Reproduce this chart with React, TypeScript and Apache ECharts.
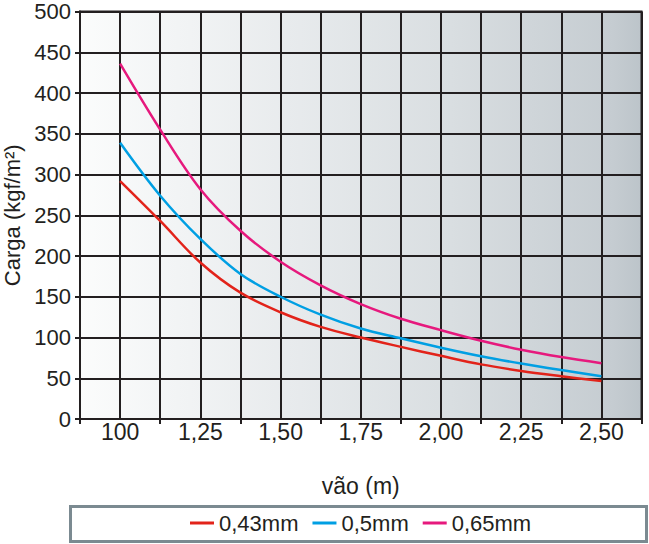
import React, { useEffect, useRef } from "react";
import * as echarts from "echarts";

const xCategories = ["100", "1,25", "1,50", "1,75", "2,00", "2,25", "2,50"];
const spans = [1.0, 1.125, 1.25, 1.375, 1.5, 1.625, 1.75, 1.875, 2.0, 2.125, 2.25, 2.375, 2.5];
const load043 = [292, 243, 192, 155, 131, 113, 100, 88.5, 77.5, 67, 59, 52.5, 46.5];
const load050 = [339, 274, 221, 178, 150, 128, 111, 99, 87.5, 77, 68, 60, 52.5];
const load065 = [436, 355, 282, 231, 193, 164, 141, 123, 109, 96, 85, 76, 68.5];
const seriesNames = ["0,43mm", "0,5mm", "0,65mm"];
const seriesColors = ["#e2231a", "#009fe3", "#e6197d"];
const yAxisName = "Carga (kgf/m²)";
const xAxisName = "vão (m)";

const FONT = "'Liberation Sans', Arial, Helvetica, sans-serif";
const INK = "#231f20";

export default function App() {
  const ref = useRef<HTMLDivElement>(null);
  useEffect(() => {
    if (!ref.current) return;
    const chart = echarts.init(ref.current, undefined, { renderer: "svg" });
    const allLoads = [load043, load050, load065];
    chart.setOption({
      animation: false,
      textStyle: { fontFamily: FONT },
      grid: {
        left: 80,
        right: 7.5,
        top: 11.5,
        bottom: 125,
        containLabel: false,
        outerBoundsMode: "none",
        show: true,
        borderColor: INK,
        borderWidth: 2,
        backgroundColor: new echarts.graphic.LinearGradient(0, 0, 1, 0, [
          { offset: 0, color: "#fbfcfc" },
          { offset: 0.37, color: "#e8ebed" },
          { offset: 0.66, color: "#d9dee1" },
          { offset: 0.95, color: "#c5ccd1" },
          { offset: 1, color: "#bcc4ca" },
        ]),
      },
      xAxis: [
        {
          type: "value",
          min: 0.875,
          max: 2.625,
          interval: 0.125,
          position: "bottom",
          axisLine: { show: false },
          axisTick: { show: false },
          axisLabel: { show: false },
          splitLine: { show: true, lineStyle: { color: INK, width: 2 } },
        },
        {
          type: "category",
          data: xCategories,
          position: "bottom",
          boundaryGap: true,
          axisLine: { show: true, lineStyle: { color: INK, width: 2 } },
          axisTick: { show: true, length: 5, lineStyle: { color: INK, width: 2 } },
          axisLabel: { fontSize: 23, lineHeight: 22, color: INK, margin: 2, fontFamily: FONT },
          splitLine: { show: false },
          name: xAxisName,
          nameLocation: "middle",
          nameGap: 56,
          nameTextStyle: { fontSize: 23, lineHeight: 22, color: INK, fontFamily: FONT },
        },
      ],
      yAxis: {
        type: "value",
        min: 0,
        max: 500,
        interval: 50,
        axisLine: { show: true, lineStyle: { color: INK, width: 2 } },
        axisTick: { show: true, length: 5, lineStyle: { color: INK, width: 2 } },
        axisLabel: { fontSize: 22, lineHeight: 20, color: INK, margin: 9, fontFamily: FONT },
        splitLine: { show: true, lineStyle: { color: INK, width: 2 } },
        name: yAxisName,
        nameLocation: "middle",
        nameGap: 52,
        nameTextStyle: { fontSize: 22, lineHeight: 22, color: INK, fontFamily: FONT },
      },
      legend: {
        left: 190,
        top: 512,
        padding: 0,
        itemWidth: 24,
        itemHeight: 3,
        itemGap: 14,
        icon: "rect",
        textStyle: { fontSize: 22, color: INK, fontFamily: FONT },
        data: seriesNames,
      },
      graphic: [
        {
          type: "rect",
          z: 0,
          shape: { x: 70.5, y: 506.5, width: 576, height: 35 },
          style: { fill: "#ffffff", stroke: "#7b8a91", lineWidth: 3 },
        },
      ],
      series: seriesNames.map((name, i) => ({
        name,
        type: "line",
        xAxisIndex: 0,
        smooth: 0.35,
        showSymbol: false,
        symbol: "none",
        color: seriesColors[i],
        lineStyle: { color: seriesColors[i], width: 2.5 },
        data: spans.map((x, j) => [x, allLoads[i][j]]),
        z: 5,
      })),
    });
    return () => chart.dispose();
  }, []);
  return (
    <div
      ref={ref}
      style={{ position: "fixed", left: 0, top: 0, width: 649, height: 544, background: "#ffffff" }}
    />
  );
}
